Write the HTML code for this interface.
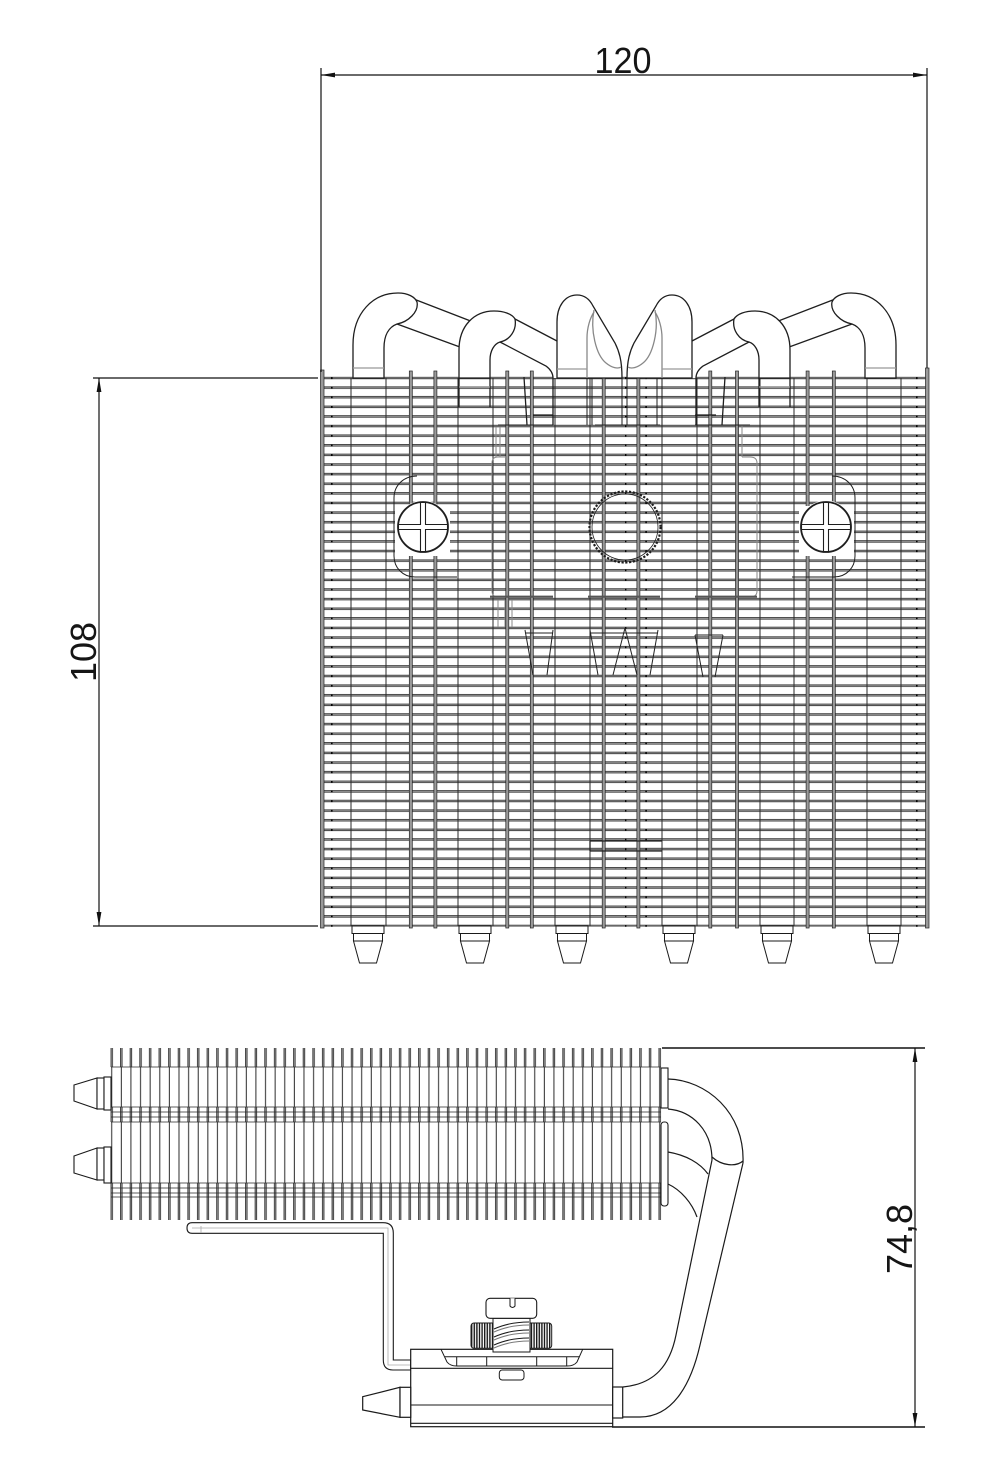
<!DOCTYPE html>
<html>
<head>
<meta charset="utf-8">
<style>
html,body{margin:0;padding:0;background:#fff;}
svg{display:block;}
text{font-family:"Liberation Sans",sans-serif;fill:#151515;}
</style>
</head>
<body>
<svg xmlns="http://www.w3.org/2000/svg" width="1000" height="1484" viewBox="0 0 1000 1484">
<defs>
  <pattern id="hf" patternUnits="userSpaceOnUse" x="0" y="376.7" width="1000" height="9.614">
    <rect x="-2" y="0.5" width="1004" height="1.6" fill="#b0b0b0" stroke="#2a2a2a" stroke-width="0.8"/>
  </pattern>
  <pattern id="vf" patternUnits="userSpaceOnUse" x="110.4" y="0" width="9.614" height="1500">
    <rect x="0.5" y="-2" width="1.6" height="1504" fill="#a0a0a0" stroke="#2a2a2a" stroke-width="0.8"/>
  </pattern>
  <pattern id="vl" patternUnits="userSpaceOnUse" x="110.4" y="0" width="9.614" height="1500">
    <line x1="1.3" y1="0" x2="1.3" y2="1500" stroke="#2a2a2a" stroke-width="1"/>
  </pattern>
  <pattern id="dt" patternUnits="userSpaceOnUse" x="0" y="376.7" width="1000" height="9.614">
    <rect x="0" y="0.5" width="1000" height="1.8" fill="#000"/>
  </pattern>
  <pattern id="kn" patternUnits="userSpaceOnUse" x="471" y="0" width="2.6" height="10">
    <rect x="0" y="0" width="1.4" height="10" fill="#1a1a1a"/>
  </pattern>

  <g id="ft" fill="#fff" stroke="#1a1a1a" stroke-width="1">
    <rect x="-16" y="926" width="32" height="7.5"/>
    <rect x="-14.5" y="933.5" width="29" height="7.5"/>
    <path d="M-14.5,941 L14.5,941 L8.5,963 L-8.5,963 Z"/>
  </g>

  <g id="pl" fill="#fff" stroke="#1e1e1e" stroke-width="1.3">
    <!-- A diagonal -->
    <path d="M410,298 L490,329 L490,358 L397,324 Z" stroke="none"/>
    <path d="M415,299.5 L490,328.5 M397,324 L490,358" fill="none"/>
    <!-- B diagonal -->
    <path d="M500,342 L515,319 L557,341 L557,378 L553,378 L546,366 Z" stroke="none"/>
    <path d="M515,319 L557,341 M500,342 L546,366 C550,369 553,373 553,378 M524,377 L527,425 M553,378 L553,425 M533,415 L553,415" fill="none"/>
    <!-- A loop -->
    <path d="M353,378 L353,345 C353,313 373,293 398,293 C408,293 415,297 417,302 C419,312 408,322 397,324 C389,327 384,335 384,348 L384,378 Z"/>
    <line x1="353" y1="368" x2="384" y2="368" stroke="#999"/>
    <!-- B loop -->
    <path d="M459,378 L459,350 C459,326 474,311 494,311 C504,311 512,314 515,319 C517,330 510,340 500,342 C494,344 490,351 490,360 L490,378 Z"/>
    <path d="M459,378 V407 M490,378 V407" fill="none"/>
    <line x1="459" y1="387" x2="490" y2="387" stroke="#999"/>
    <!-- C loop -->
    <path d="M557,378 L557,322 C557,306 565,295 577,295 C585,295 590,300 593,306 L615,343 C619,351 622,360 622,378 Z"/>
    <path d="M587,378 L587,338 C587,328 590,318 594,312" fill="none" stroke="#888"/>
    <path d="M594,310 C590,330 596,355 606,363 C612,368 618,369 621,367" fill="none" stroke="#888"/>
    <line x1="557" y1="369" x2="587" y2="369" stroke="#999"/>
    <path d="M587,378 V425 M592,378 V425 M622,378 V425" fill="none" stroke-width="1"/>
  </g>
</defs>

<!-- ================= TOP VIEW ================= -->
<!-- horizontal fins -->
<rect x="321" y="376.7" width="607" height="550" fill="url(#hf)"/>

<!-- pipe outlines through stack -->
<path d="M351,378V926M386,378V926M458,378V926M493,378V926M555,378V926M590,378V926M662,378V926M697,378V926M760,378V926M794,378V926M867,378V926M901,378V926" stroke="#2a2a2a" stroke-width="1" fill="none"/>

<!-- fin lock bands -->
<g fill="#9a9a9a" stroke="#222" stroke-width="0.7">
  <rect x="409.3" y="371" width="3" height="557"/>
  <rect x="433.9" y="371" width="3" height="557"/>
  <rect x="505.8" y="371" width="3" height="557"/>
  <rect x="530.3" y="371" width="3" height="557"/>
  <rect x="602.2" y="371" width="3" height="557"/>
  <rect x="636.9" y="371" width="3" height="557"/>
  <rect x="708.8" y="371" width="3" height="557"/>
  <rect x="735.5" y="371" width="3" height="557"/>
  <rect x="806.1" y="371" width="3" height="557"/>
  <rect x="832.3" y="371" width="3" height="557"/>
  <rect x="320.5" y="370" width="3.5" height="558"/>
  <rect x="925.5" y="368" width="3.5" height="560"/>
</g>
<!-- dot columns -->
<rect x="331" y="376.7" width="1.6" height="550" fill="url(#dt)"/>
<rect x="625" y="376.7" width="1.4" height="550" fill="url(#dt)"/>
<rect x="645.3" y="376.7" width="1.6" height="550" fill="url(#dt)"/>
<rect x="916" y="376.7" width="1.6" height="550" fill="url(#dt)"/>

<!-- mounting holes -->
<rect x="395" y="506" width="55" height="50" fill="#fff"/>
<circle cx="423" cy="527" r="26.5" fill="#fff"/>
<rect x="799" y="506" width="55" height="50" fill="#fff"/>
<circle cx="826" cy="527" r="26.5" fill="#fff"/>
<g fill="none" stroke="#1e1e1e">
  <circle cx="423" cy="527" r="25" stroke-width="1.8"/>
  <path d="M420.5,502.5 H425.5 V524.5 H447.5 V529.5 H425.5 V551.5 H420.5 V529.5 H398.5 V524.5 H420.5 Z" stroke-width="1.1"/>
  <path d="M417,476 C404,476 394,485 394,498 L394,556 C394,568 403,577 415,577 L457,577" stroke-width="1"/>
  <circle cx="826" cy="527" r="25" stroke-width="1.8"/>
  <path d="M823.5,502.5 H828.5 V524.5 H850.5 V529.5 H828.5 V551.5 H823.5 V529.5 H801.5 V524.5 H823.5 Z" stroke-width="1.1"/>
  <path d="M832,476 C845,476 855,485 855,498 L855,556 C855,568 846,577 834,577 L792,577" stroke-width="1"/>
  <!-- knurled center -->
  <circle cx="625" cy="527" r="35.5" stroke-width="2.2" stroke-dasharray="2.2 1.6"/>
  <circle cx="625" cy="527" r="33" stroke-width="0.8"/>
</g>

<!-- hidden internal features -->
<g fill="none" stroke="#8a8a8a" stroke-width="1">
  <path d="M507,457 L498,457 Q492,457 492,463 L492,591 Q492,597 498,597"/>
  <path d="M496,427 V457 M500,427 V457"/>
  <path d="M498,600 V627 M505,600 V627 M512,600 V627"/>
  <path d="M742,457 L750,457 Q757,457 757,463 L757,591 Q757,597 750,597"/>
  <path d="M737,425 V627 M742,425 V457"/>
</g>
<g fill="none" stroke="#222" stroke-width="1">
  <path d="M498,425 H553 M595,425 H660 M695,425 H750 M695,415 H710"/>
  <path d="M490,596.7 H553 M588,596.7 H660 M695,596.7 H757" stroke="#555" stroke-width="2.2"/>
  <!-- V shapes -->
  <path d="M525,630 L533,675 M553,630 L547,675 M525,633 H553"/>
  <path d="M590,630 L598,675 M625,628 L613,675 M625,628 L637,675 M658,630 L650,675 M590,633 H658"/>
  <path d="M695,635 L703,677 M723,635 L715,677 M695,635 H723"/>
  <!-- central bottom box -->
  <path d="M590,841 H662 M590,851 H662 M590,841 V851" stroke-width="1.3"/>
</g>

<!-- heat pipe loops on top -->
<use href="#pl"/>
<use href="#pl" transform="matrix(-1,0,0,1,1249,0)"/>

<!-- feet -->
<use href="#ft" x="368"/>
<use href="#ft" x="475"/>
<use href="#ft" x="572"/>
<use href="#ft" x="679"/>
<use href="#ft" x="777"/>
<use href="#ft" x="884"/>

<!-- dimension 120 -->
<g stroke="#111" stroke-width="1.2" fill="none">
  <line x1="321" y1="68" x2="321" y2="372"/>
  <line x1="927" y1="68" x2="927" y2="368"/>
  <line x1="321" y1="75" x2="927" y2="75"/>
  <line x1="93" y1="378" x2="318" y2="378"/>
  <line x1="93" y1="926" x2="318" y2="926"/>
  <line x1="99" y1="378" x2="99" y2="926"/>
  <line x1="662" y1="1048" x2="925" y2="1048" stroke-width="1.6"/>
  <line x1="612" y1="1427" x2="925" y2="1427" stroke-width="1.6"/>
  <line x1="915" y1="1048" x2="915" y2="1427"/>
</g>
<g fill="#111">
  <path d="M321,75 L335,72.6 L335,77.4 Z"/>
  <path d="M927,75 L913,72.6 L913,77.4 Z"/>
  <path d="M99,378 L96.6,392 L101.4,392 Z"/>
  <path d="M99,926 L96.6,912 L101.4,912 Z"/>
  <path d="M915,1048 L912.6,1062 L917.4,1062 Z"/>
  <path d="M915,1427 L912.6,1413 L917.4,1413 Z"/>
</g>
<text x="623" y="73" text-anchor="middle" font-size="36" textLength="57" lengthAdjust="spacingAndGlyphs">120</text>
<text transform="translate(96,652) rotate(-90)" text-anchor="middle" font-size="36">108</text>
<text transform="translate(912,1239) rotate(-90)" text-anchor="middle" font-size="36">74,8</text>

<!-- ================= SIDE VIEW ================= -->
<rect x="110.4" y="1048" width="551" height="19" fill="url(#vf)"/>
<rect x="110.4" y="1067" width="551" height="40" fill="url(#vl)"/>
<rect x="110.4" y="1107" width="551" height="15" fill="url(#vf)"/>
<rect x="110.4" y="1122" width="551" height="61" fill="url(#vl)"/>
<rect x="110.4" y="1183" width="551" height="37" fill="url(#vf)"/>
<path d="M111,1067 H661 M111,1107 H661 M111,1112 H661 M111,1117 H661 M111,1122 H661 M111,1183 H661 M111,1188 H661 M111,1193 H661 M111,1197 H661" stroke="#2a2a2a" stroke-width="0.8" fill="none"/>

<g fill="#fff" stroke="#1a1a1a" stroke-width="1.1">
  <!-- left cones -->
  <path d="M74,1085 L97,1078 L97,1109 L74,1101 Z"/>
  <rect x="97" y="1078" width="7" height="31"/>
  <rect x="104" y="1077" width="7" height="33"/>
  <path d="M74,1156 L97,1148 L97,1180 L74,1173 Z"/>
  <rect x="97" y="1148" width="7" height="32"/>
  <rect x="104" y="1147" width="7" height="36"/>
  <!-- right collars -->
  <rect x="661" y="1068" width="7" height="40"/>
  <rect x="661" y="1122" width="7" height="84" rx="3"/>
</g>

<!-- bent pipes -->
<g fill="none" stroke="#1a1a1a" stroke-width="1.2">
  <path d="M668,1079 C706,1080 745,1112 743,1163"/>
  <path d="M743,1163 L700,1345 C692,1380 675,1417 640,1417 L623,1417"/>
  <path d="M668,1109 C692,1111 712,1130 712,1160"/>
  <path d="M712,1160 L676,1335 C670,1365 655,1384 623,1387"/>
  <path d="M712,1157 C722,1166 736,1167 743,1161"/>
  <path d="M668,1152 C686,1155 700,1163 708,1174"/>
  <path d="M668,1184 C681,1190 692,1203 697,1217"/>
</g>

<!-- bracket -->
<path d="M192,1222.7 L383,1222.7 Q393.3,1222.7 393.3,1233 L393.3,1360 L410.7,1360 L410.7,1370 L393,1370 Q383.3,1370 383.3,1360 L383.3,1233.3 L192,1233.3 Q187,1233.3 187,1228 Q187,1222.7 192,1222.7 Z" fill="#fff" stroke="#1a1a1a" stroke-width="1.1"/>
<path d="M201,1226 V1233 M192,1228 H388 V1365 H410" fill="none" stroke="#aaa" stroke-width="0.8"/>

<!-- base block -->
<g fill="#fff" stroke="#1a1a1a" stroke-width="1.2">
  <rect x="410.7" y="1349.3" width="202" height="77.4"/>
  <rect x="612.7" y="1387" width="10" height="31"/>
  <path d="M362.7,1396.7 L400,1387.3 L400,1417.3 L362.7,1410 Z"/>
  <rect x="400" y="1387.3" width="10.7" height="30"/>
</g>
<path d="M410.7,1368.3 H612.7 M410.7,1405 H612.7 M410.7,1423.3 H612.7" stroke="#1a1a1a" stroke-width="1.1" fill="none"/>
<!-- clip plate -->
<g fill="none" stroke="#1a1a1a" stroke-width="1">
  <path d="M441,1349.3 L447,1362 Q450,1366 457,1366 L567,1366 Q574,1366 577,1362 L582.7,1349.3"/>
  <path d="M445,1356.7 H579"/>
  <path d="M456.7,1356.7 V1366 M486.7,1356.7 V1366 M536.7,1356.7 V1366 M566.7,1356.7 V1366"/>
</g>
<!-- knurled nut -->
<rect x="471" y="1323" width="80.7" height="25.3" rx="3" fill="url(#kn)" stroke="#1a1a1a" stroke-width="1"/>
<!-- screw shaft -->
<rect x="493" y="1318.3" width="37" height="33.7" fill="#fff" stroke="#1a1a1a" stroke-width="1"/>
<g fill="none" stroke="#1a1a1a" stroke-width="1">
  <path d="M494,1329 C505,1324 518,1322 529,1322"/>
  <path d="M494,1332 C505,1327 518,1325 529,1325" stroke="#777"/>
  <path d="M494,1337 C505,1332 518,1330 529,1330"/>
  <path d="M494,1340 C505,1335 518,1333 529,1333" stroke="#777"/>
  <path d="M494,1345 C505,1340 518,1338 529,1338"/>
  <path d="M494,1348 C505,1343 518,1341 529,1341" stroke="#777"/>
</g>
<!-- screw head -->
<rect x="486" y="1298.3" width="50.7" height="20" rx="4" fill="#fff" stroke="#1a1a1a" stroke-width="1.1"/>
<path d="M510,1298.3 L510,1306 Q512.5,1309 515,1306 L515,1298.3" fill="#fff" stroke="#1a1a1a" stroke-width="1"/>
<!-- small nut under plate -->
<rect x="499.3" y="1370" width="24.7" height="10" rx="3" fill="#fff" stroke="#1a1a1a" stroke-width="1"/>
</svg>
</body>
</html>
